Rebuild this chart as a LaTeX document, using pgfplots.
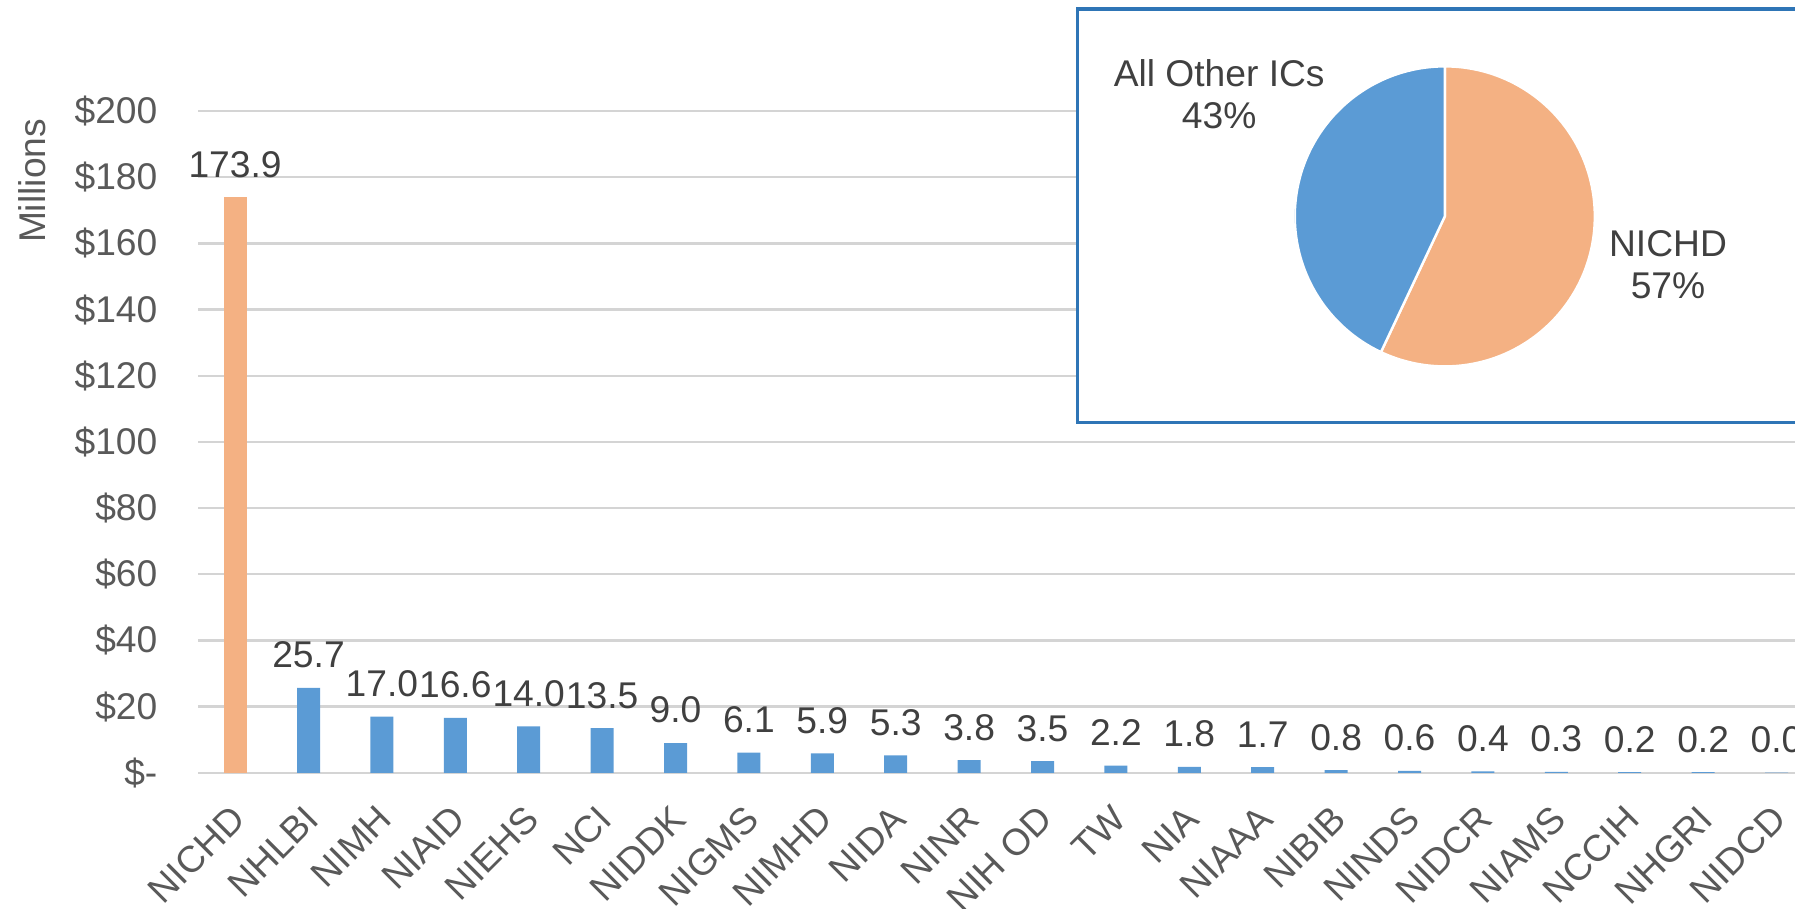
\documentclass[border=0pt]{standalone}
\usepackage{pgfplots}
\pgfplotsset{compat=1.18}
\usepackage{pgfplotstable}
\usepackage{fontspec}
\setmainfont{Liberation Sans}
\definecolor{barorange}{HTML}{F4B183}
\definecolor{barblue}{HTML}{5B9BD5}
\definecolor{boxblue}{HTML}{2E75B6}
\definecolor{txt}{HTML}{404040}
\definecolor{ticktxt}{HTML}{595959}
\definecolor{gridc}{HTML}{D4D4D4}
\newcommand{\chartfont}{\fontsize{18.6}{21}\selectfont}

\pgfplotstableread[col sep=comma]{
x,label,value
0,NICHD,173.9
}\orangedata
\pgfplotstableread[col sep=comma]{
x,label,value
1,NHLBI,25.7
2,NIMH,17.0
3,NIAID,16.6
4,NIEHS,14.0
5,NCI,13.5
6,NIDDK,9.0
7,NIGMS,6.1
8,NIMHD,5.9
9,NIDA,5.3
10,NINR,3.8
11,NIH OD,3.5
12,TW,2.2
13,NIA,1.8
14,NIAAA,1.7
15,NIBIB,0.8
16,NINDS,0.6
17,NIDCR,0.4
18,NIAMS,0.3
19,NCCIH,0.2
20,NHGRI,0.2
21,NIDCD,0.04
}\bluedata
\pgfplotstableread[col sep=comma]{
label,share
NICHD,57
All Other ICs,43
}\piedata

\begin{document}%
\begin{tikzpicture}
\pgfplotstablegetelem{0}{share}\of\piedata
\pgfmathsetmacro{\orangeend}{90-3.6*\pgfplotsretval}
\pgfplotstablegetelem{1}{share}\of\piedata
\pgfmathsetmacro{\blueend}{90+3.6*\pgfplotsretval}
\path[use as bounding box] (0,0) rectangle (897.5pt,454.5pt);
\clip (0,0) rectangle (897.5pt,454.5pt);
\begin{scope}[overlay]
\begin{axis}[
  overlay,
  at={(99.2pt,68.1pt)}, anchor=south west,
  scale only axis, width=807.4pt, height=330.9pt,
  xmin=-0.5, xmax=21.5, ymin=0, ymax=200,
  axis line style={draw=none},
  major tick length=0pt,
  ymajorgrids, grid style={gridc, line width=1.2pt},
  ytick={0,20,...,200},
  yticklabels={\$-,\$20,\$40,\$60,\$80,\$100,\$120,\$140,\$160,\$180,\$200},
  yticklabel style={font=\chartfont, color=ticktxt, xshift=-17pt},
  xtick={0,...,21},
  xticklabels={NICHD,NHLBI,NIMH,NIAID,NIEHS,NCI,NIDDK,NIGMS,NIMHD,NIDA,NINR,NIH OD,TW,NIA,NIAAA,NIBIB,NINDS,NIDCR,NIAMS,NCCIH,NHGRI,NIDCD},
  xticklabel style={font=\chartfont, color=ticktxt, xshift=4pt, yshift=-17.5pt, rotate=45, anchor=east},
  ybar, bar width=11.5pt, bar shift=0pt,
  nodes near coords,
  every node near coord/.append style={font=\chartfont, color=txt, yshift=6.3pt},
  /pgf/number format/.cd, fixed, fixed zerofill, precision=1, assume math mode=true,
]
\addplot[fill=barorange, draw=none] table[x=x, y=value] {\orangedata};
\addplot[fill=barblue, draw=none] table[x=x, y=value] {\bluedata};
\end{axis}
\node[rotate=90, color=ticktxt, font=\chartfont] at (16pt,364pt) {Millions};
\filldraw[fill=white, draw=boxblue, line width=1.7pt] (538.6pt,243.3pt) rectangle (930pt,449.9pt);
\begin{axis}[
  overlay,
  at={(722.4pt,346.3pt)}, anchor=center,
  hide axis, scale only axis, width=150pt, height=150pt,
  xmin=-1, xmax=1, ymin=-1, ymax=1,
]
\filldraw[fill=barorange, draw=white, line width=1.2pt] (axis cs:0,0) -- (axis cs:0,1) arc[start angle=90, end angle=\orangeend, radius=75pt] -- cycle;
\filldraw[fill=barblue, draw=white, line width=1.2pt] (axis cs:0,0) -- (axis cs:0,1) arc[start angle=90, end angle=\blueend, radius=75pt] -- cycle;
\end{axis}
\node[align=center, color=txt, font=\chartfont] at (609.6pt,407.3pt) {All Other ICs\\43\%};
\node[align=center, color=txt, font=\chartfont] at (834pt,322pt) {NICHD\\57\%};
\end{scope}
\end{tikzpicture}%
\end{document}
